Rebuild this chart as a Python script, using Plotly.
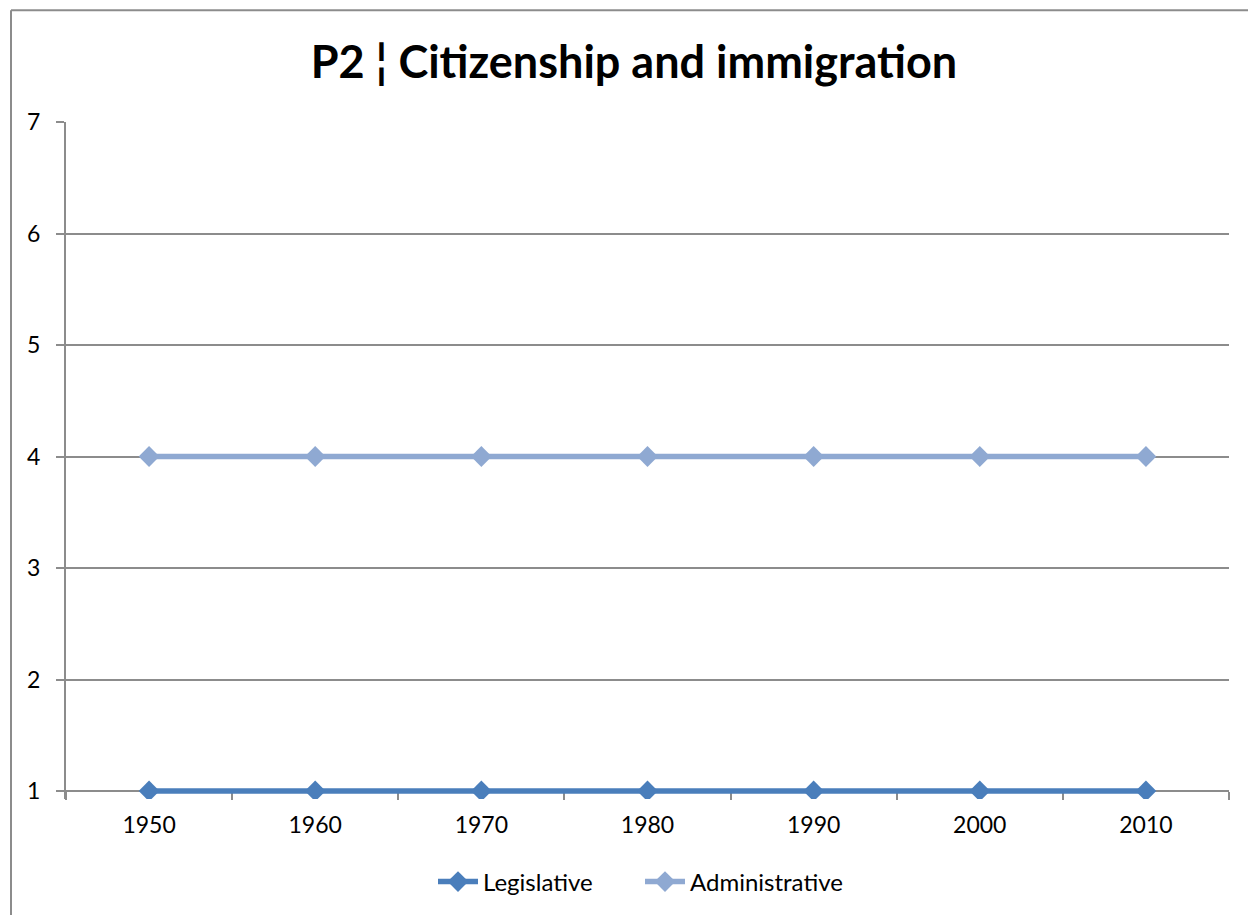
import plotly.graph_objects as go

# Data
years = ["1950", "1960", "1970", "1980", "1990", "2000", "2010"]
legislative = [1, 1, 1, 1, 1, 1, 1]
administrative = [4, 4, 4, 4, 4, 4, 4]
y_ticks = [1, 2, 3, 4, 5, 6, 7]
y_min, y_max = 1, 7

title_text = "P2 ¦ Citizenship and immigration"
FONT = "Lato"
GRID = "#8c8c8c"

W, H = 1248, 915
M_L, M_R, M_T, M_B = 66, 19, 122, 115
plot_h = H - M_T - M_B
axis_px = 792                       # pixel row of the category axis
d = (M_T + plot_h - axis_px) / plot_h
# value axis runs a little below the minimum so the bottom series is not clipped
y_low = y_min - (y_max - y_min) * d / (1 - d)


def px_to_paper_y(py):
    return (M_T + plot_h - py) / plot_h


def px_to_paper_x(px):
    return (px - M_L) / (W - M_L - M_R)


fig = go.Figure()
fig.add_trace(go.Scatter(
    x=years, y=legislative, name="Legislative", mode="lines+markers",
    line=dict(color="#4A7EBB", width=5.5),
    marker=dict(symbol="diamond", size=16, color="#4A7EBB"),
))
fig.add_trace(go.Scatter(
    x=years, y=administrative, name="Administrative", mode="lines+markers",
    line=dict(color="#8FA9D2", width=5.5),
    marker=dict(symbol="diamond", size=16, color="#8FA9D2"),
))

# chart frame (left and top edges)
fx, fy = px_to_paper_x(11), px_to_paper_y(10)
fig.add_shape(type="line", xref="paper", yref="paper",
              x0=fx, x1=1.2, y0=fy, y1=fy,
              line=dict(color=GRID, width=2))
fig.add_shape(type="line", xref="paper", yref="paper",
              x0=fx, x1=fx, y0=-0.5, y1=fy,
              line=dict(color=GRID, width=2))

fig.update_layout(
    width=W, height=H,
    margin=dict(l=M_L, r=M_R, t=M_T, b=M_B),
    paper_bgcolor="white", plot_bgcolor="white",
    font=dict(family=FONT, size=23, color="black"),
    title=dict(text=f"<b>{title_text}</b>", x=0.508, xanchor="center",
               y=1 - 62 / H, yanchor="middle",
               font=dict(family=FONT, size=45, color="black")),
    showlegend=True,
    legend=dict(orientation="h", x=px_to_paper_x(640), xanchor="center",
                y=px_to_paper_y(882), yanchor="middle", font=dict(size=24),
                itemwidth=40, entrywidth=152, traceorder="normal"),
    xaxis=dict(type="category", tickson="boundaries", ticks="outside",
               ticklen=8, tickwidth=2, tickcolor=GRID,
               showline=True, linecolor=GRID, linewidth=2,
               showgrid=False, zeroline=False, layer="below traces",
               anchor="free", position=d,
               range=[-0.5, 6.5], ticklabelstandoff=13),
    yaxis=dict(range=[y_low, y_max], tickvals=y_ticks, ticks="outside",
               ticklen=8, tickwidth=2, tickcolor=GRID,
               showline=True, linecolor=GRID, linewidth=2,
               showgrid=True, gridcolor=GRID, gridwidth=2,
               zeroline=False, layer="below traces", ticklabelstandoff=11),
)

fig.write_html("out.html")
